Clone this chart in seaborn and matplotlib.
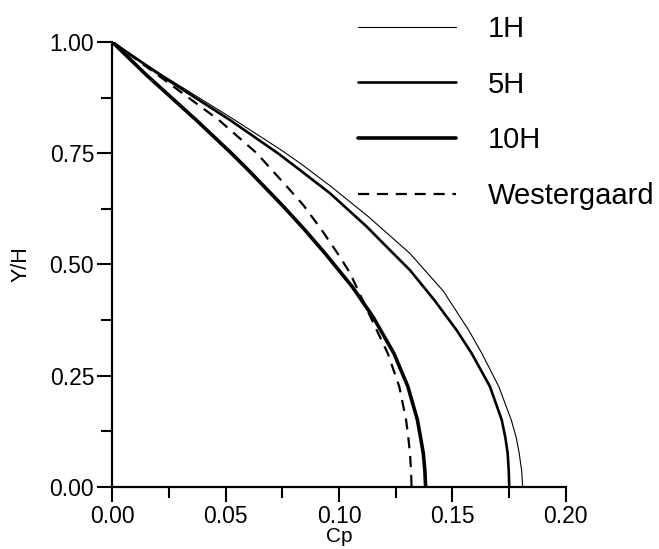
import numpy as np
import pandas as pd
import matplotlib
matplotlib.use("Agg")
import matplotlib.pyplot as plt
from matplotlib.ticker import MultipleLocator, FormatStrFormatter
import seaborn as sns

# values (Cp against Y/H)
y_10h = [1.0, 0.926, 0.8246, 0.75, 0.712, 0.63, 0.577, 0.525, 0.45, 0.382, 0.30, 0.225, 0.15, 0.11, 0.075, 0.035, 0.0]
cp_10h = [0.0, 0.015, 0.037, 0.0525, 0.060, 0.0755, 0.085, 0.0938, 0.1058, 0.115, 0.1242, 0.1304, 0.1346, 0.136, 0.1372, 0.1379, 0.1382]

y_west = [1.0, 0.926, 0.8246, 0.75, 0.667, 0.633, 0.577, 0.517, 0.48, 0.375, 0.30, 0.225, 0.15, 0.11, 0.075, 0.035, 0.0]
cp_west = [0.0, 0.02, 0.047, 0.0637, 0.0784, 0.0843, 0.0924, 0.1004, 0.1049, 0.1145, 0.1215, 0.1266, 0.1296, 0.1306, 0.1313, 0.1318, 0.132]

y_5h = [1.0, 0.926, 0.8246, 0.75, 0.712, 0.66, 0.585, 0.555, 0.487, 0.42, 0.352, 0.30, 0.225, 0.15, 0.11, 0.075, 0.035, 0.0]
cp_5h = [0.0, 0.021, 0.0519, 0.073, 0.0828, 0.096, 0.1122, 0.118, 0.1313, 0.142, 0.1519, 0.1585, 0.1666, 0.1718, 0.1734, 0.1744, 0.1749, 0.1751]

y_1h = [1.0, 0.926, 0.8246, 0.757, 0.727, 0.675, 0.607, 0.525, 0.44, 0.352, 0.30, 0.225, 0.15, 0.11, 0.075, 0.035, 0.0]
cp_1h = [0.0, 0.022, 0.054, 0.0745, 0.083, 0.0965, 0.113, 0.1312, 0.146, 0.1572, 0.163, 0.1705, 0.176, 0.1782, 0.1795, 0.1806, 0.181]

sns.set_style("ticks")
plt.rcParams['font.family'] = ['Liberation Sans', 'DejaVu Sans']
plt.rcParams['text.color'] = 'black'
plt.rcParams['axes.labelcolor'] = 'black'

fig = plt.figure(figsize=(6.59, 5.49), dpi=100)
ax = fig.add_axes([0.1704, 0.1135, 0.688, 0.81])

series = [
    ("1H", cp_1h, y_1h, 0.8, "-"),
    ("5H", cp_5h, y_5h, 1.9, "-"),
    ("10H", cp_10h, y_10h, 2.6, "-"),
    ("Westergaard", cp_west, y_west, 1.6, (0, (5, 3.5))),
]
for name, cp, yh, lw, ls in series:
    df = pd.DataFrame({"Cp": cp, "Y/H": yh})
    sns.lineplot(data=df, x="Cp", y="Y/H", sort=False, estimator=None,
                 color="black", linewidth=lw, linestyle=ls, label=name, ax=ax)

ax.set_xlim(0, 0.2)
ax.set_ylim(0, 1.0)
ax.xaxis.set_major_locator(MultipleLocator(0.05))
ax.xaxis.set_minor_locator(MultipleLocator(0.025))
ax.yaxis.set_major_locator(MultipleLocator(0.25))
ax.yaxis.set_minor_locator(MultipleLocator(0.125))
ax.xaxis.set_major_formatter(FormatStrFormatter('%.2f'))
ax.yaxis.set_major_formatter(FormatStrFormatter('%.2f'))
ax.tick_params(which='major', length=11, width=1.5, labelsize=16.5, pad=2, color='black', labelcolor='black')
ax.tick_params(which='minor', length=8, width=1.5, color='black')
sns.despine(ax=ax)
for s in ("left", "bottom"):
    ax.spines[s].set_linewidth(1.6)
    ax.spines[s].set_color("black")

ax.set_xlabel("Cp", fontsize=15, labelpad=-0.5)
ax.set_ylabel("Y/H", fontsize=15.5, labelpad=13)

ax.legend(loc='upper left', bbox_to_anchor=(358 / 659, 1 - 15 / 549),
          bbox_transform=fig.transFigure, frameon=False, fontsize=21,
          handlelength=3.35, handletextpad=1.1, labelspacing=0.95,
          borderpad=0, borderaxespad=0)

fig.savefig("out.png", dpi=100)
